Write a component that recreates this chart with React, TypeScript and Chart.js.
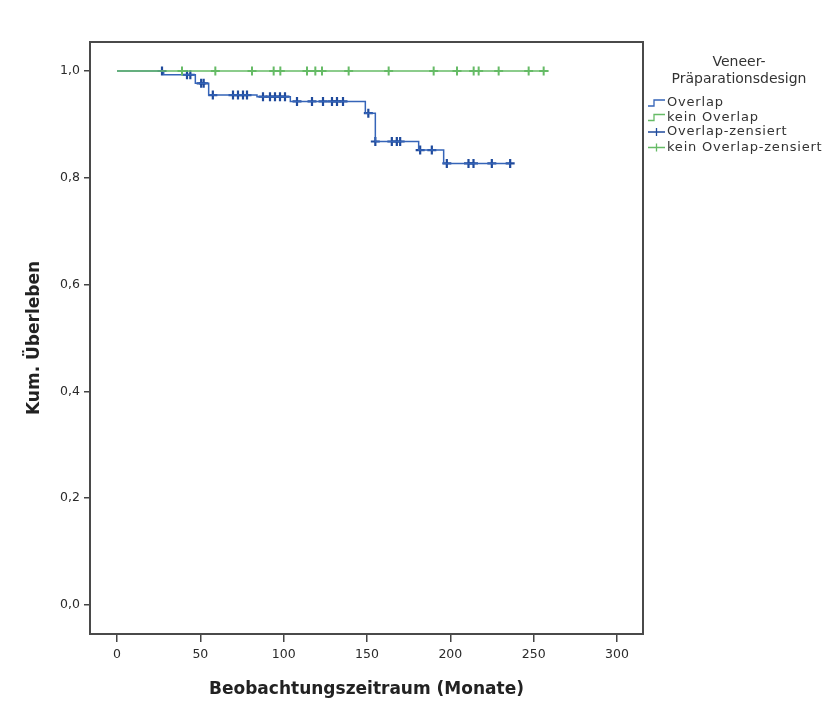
import React, { useEffect, useRef } from "react";
import { Chart, registerables } from "chart.js";

Chart.register(...registerables);

// Kaplan-Meier step data (months, cumulative survival)
const overlapStepTimes = [0, 28, 47, 55, 84, 104, 149, 155, 181, 196, 236];
const overlapStepSurv = [1.0, 0.993, 0.977, 0.955, 0.952, 0.943, 0.921, 0.868, 0.852, 0.827, 0.827];

const keinStepTimes = [0, 259];
const keinStepSurv = [1.0, 1.0];

// censored observations
const overlapCensTimes = [27, 42, 44, 50.5, 52, 57.5, 69.6, 72.6, 75.6, 78, 87.6, 91.8, 94.8, 97.8, 100.8, 108, 117, 123.6, 129, 132, 135.6, 150.8, 155, 164.9, 167.9, 169.9, 181.9, 188.9, 197.9, 210.9, 213.9, 224.9, 235.9];
const overlapCensSurv = [1.0, 0.993, 0.993, 0.977, 0.977, 0.955, 0.955, 0.955, 0.955, 0.955, 0.952, 0.952, 0.952, 0.952, 0.952, 0.943, 0.943, 0.943, 0.943, 0.943, 0.943, 0.921, 0.868, 0.868, 0.868, 0.868, 0.852, 0.852, 0.827, 0.827, 0.827, 0.827, 0.827];

const keinCensTimes = [39, 59, 81, 94, 98, 114, 119, 123, 139, 163, 190, 204, 214, 217, 229, 247, 256];

const xTicks = [0, 50, 100, 150, 200, 250, 300];
const yTicks = [0, 0.2, 0.4, 0.6, 0.8, 1.0];

const legendTitle = ["Veneer-", "Präparationsdesign"];
const legendLabels = ["Overlap", "kein Overlap", "Overlap-zensiert", "kein Overlap-zensiert"];

const BLUE = "#3564b8";
const BLUE_DARK = "#1f4a9c";
const GREEN = "#66bb66";
const FONT = "'DejaVu Sans', Verdana, sans-serif";

const zip = (xs: number[], ys: number[]) => xs.map((x, i) => ({ x, y: ys[i] }));

const boxAndLegend = {
  id: "boxAndLegend",
  afterDraw(chart: any) {
    const { ctx, chartArea } = chart;
    ctx.save();
    ctx.strokeStyle = "#4a4a4a";
    ctx.lineWidth = 2;
    ctx.strokeRect(chartArea.left, chartArea.top, chartArea.right - chartArea.left, chartArea.bottom - chartArea.top);

    // legend
    ctx.fillStyle = "#333";
    ctx.textAlign = "center";
    ctx.textBaseline = "middle";
    ctx.font = `14px ${FONT}`;
    ctx.fillText(legendTitle[0], 731, 54);
    ctx.fillText(legendTitle[1], 731, 71);

    ctx.font = `13px ${FONT}`;
    try { (ctx as any).letterSpacing = "0.8px"; } catch (e) {}
    ctx.textAlign = "left";
    const ys = [95, 109.5, 124, 139.5];
    const colors = [BLUE, GREEN, BLUE_DARK, GREEN];
    const x0 = 640, x1 = 657;
    ys.forEach((y, i) => {
      ctx.strokeStyle = colors[i];
      ctx.lineWidth = 1.3;
      ctx.beginPath();
      if (i < 2) {
        ctx.moveTo(x0, y + 3);
        ctx.lineTo(x0 + 6, y + 3);
        ctx.lineTo(x0 + 6, y - 3);
        ctx.lineTo(x1, y - 3);
      } else {
        ctx.moveTo(x0, y);
        ctx.lineTo(x1, y);
        ctx.moveTo((x0 + x1) / 2, y - 4);
        ctx.lineTo((x0 + x1) / 2, y + 4);
      }
      ctx.stroke();
      ctx.fillStyle = "#333";
      ctx.fillText(legendLabels[i], 659, y);
    });
    ctx.restore();
  },
};

export default function App() {
  const ref = useRef<HTMLCanvasElement | null>(null);
  useEffect(() => {
    if (!ref.current) return;
    const chart = new Chart(ref.current, {
      type: "scatter",
      data: {
        datasets: [
          {
            label: legendLabels[1],
            data: zip(keinStepTimes, keinStepSurv),
            showLine: true,
            stepped: true,
            borderColor: GREEN,
            borderWidth: 1.5,
            pointRadius: 0,
          },
          {
            label: legendLabels[3],
            data: keinCensTimes.map((x) => ({ x, y: 1.0 })),
            pointStyle: "cross",
            pointRadius: 4.5,
            borderColor: GREEN,
            borderWidth: 2,
          },
          {
            label: legendLabels[0],
            data: zip(overlapStepTimes, overlapStepSurv),
            showLine: true,
            stepped: true,
            borderColor: BLUE,
            borderWidth: 1.5,
            pointRadius: 0,
          },
          {
            label: legendLabels[2],
            data: zip(overlapCensTimes, overlapCensSurv),
            pointStyle: "cross",
            pointRadius: 4.5,
            borderColor: BLUE_DARK,
            borderWidth: 2.2,
          },
        ] as any,
      },
      options: {
        animation: false,
        responsive: false,
        maintainAspectRatio: false,
        layout: { padding: { left: 0, right: 182, top: 34, bottom: 0 } },
        plugins: { legend: { display: false }, tooltip: { enabled: false } },
        scales: {
          x: {
            type: "linear",
            min: -16.2,
            max: 315.6,
            afterBuildTicks: (s: any) => { s.ticks = xTicks.map((v) => ({ value: v })); },
            afterFit: (s: any) => { s.height = 78; },
            grid: { display: true, drawOnChartArea: false, drawTicks: true, tickLength: 8, color: "#444", lineWidth: 1.5 },
            border: { display: false },
            ticks: { color: "#2a2a2a", font: { family: FONT, size: 12.5 }, padding: 5, maxRotation: 0, callback: (v: any) => String(v) },
            title: { display: true, text: "Beobachtungszeitraum (Monate)", color: "#222", font: { family: FONT, size: 17, weight: "bold" }, padding: { top: 0, bottom: 12 } },
          },
          y: {
            type: "linear",
            min: -0.0543,
            max: 1.0543,
            afterBuildTicks: (s: any) => { s.ticks = yTicks.map((v) => ({ value: v })); },
            afterFit: (s: any) => { s.width = 82; },
            grid: { display: true, drawOnChartArea: false, drawTicks: true, tickLength: 6, color: "#444", lineWidth: 1.5 },
            border: { display: false },
            ticks: { color: "#2a2a2a", font: { family: FONT, size: 12.5 }, padding: 4, callback: (v: any) => Number(v).toFixed(1).replace(".", ",") },
            title: { display: true, text: "Kum. Überleben", color: "#222", font: { family: FONT, size: 17, weight: "bold" }, padding: { top: 16, bottom: 0 } },
          },
        },
      } as any,
      plugins: [boxAndLegend],
    });
    return () => chart.destroy();
  }, []);
  return (
    <div style={{ width: 817, height: 704, background: "#fff" }}>
      <canvas ref={ref} width={817} height={704} style={{ display: "block" }} />
    </div>
  );
}
